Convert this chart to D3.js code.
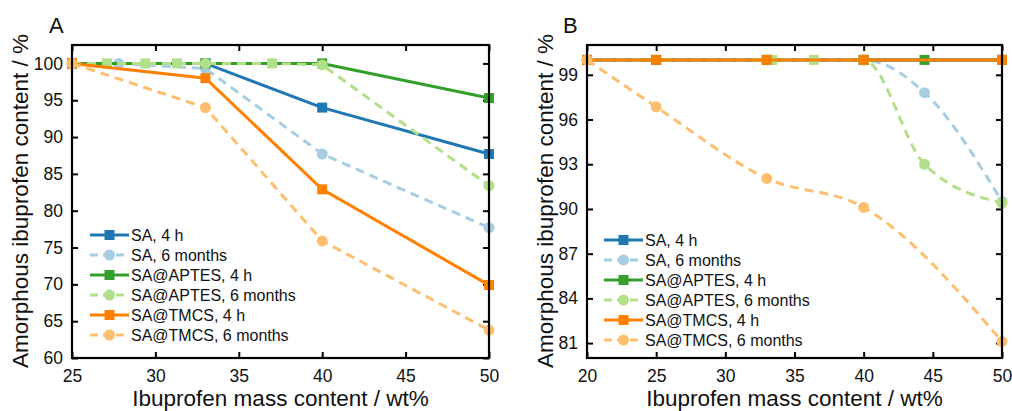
<!DOCTYPE html>
<html>
<head>
<meta charset="utf-8">
<script src="https://cdn.jsdelivr.net/npm/d3@7"></script>
<style>
  body { margin: 0; background: #fff; }
  svg { font-family: "Liberation Sans", Arial, sans-serif; }
</style>
</head>
<body>
<svg id="chart" width="1012" height="411"></svg>
<script>
// ---- data ----
const seriesNames = ["SA, 4 h", "SA, 6 months", "SA@APTES, 4 h", "SA@APTES, 6 months", "SA@TMCS, 4 h", "SA@TMCS, 6 months"]
const seriesColors = ["#1f78b4", "#a6cee3", "#33a02c", "#b2df8a", "#ff7f00", "#fdbf6f"]
const seriesDashed = [false, true, false, true, false, true]

// panel A
const saA = [[25, 100], [33, 100], [40, 94], [50, 87.7]]
const sa6A = [[25, 100], [27.8, 100], [33, 99.3], [40, 87.7], [50, 77.7]]
const aptesA = [[25, 100], [33, 100], [40, 100], [50, 95.3]]
const aptes6A = [[25, 100], [27.1, 100], [29.4, 100], [31.3, 100], [33, 100], [37, 100], [40, 99.8], [50, 83.4]]
const tmcsA = [[25, 100], [33, 98], [40, 82.9], [50, 69.9]]
const tmcs6A = [[25, 100], [33, 94], [40, 75.9], [50, 63.8]]
const aptes6SquaresA = [27.1, 29.4, 31.3, 37]
const xTicksA = [25, 30, 35, 40, 45, 50]
const yTicksA = [60, 65, 70, 75, 80, 85, 90, 95, 100]

// panel B
const saB = [[20, 100], [25, 100], [33, 100], [40, 100], [50, 100]]
const sa6B = [[20, 100], [33, 100], [40, 100], [44.4, 97.8], [50, 90.5]]
const aptesB = [[20, 100], [33, 100], [40, 100], [44.4, 100], [50, 100]]
const aptes6B = [[20, 100], [33.4, 100], [36.4, 100], [40, 100], [44.4, 93], [50, 90.4]]
const tmcsB = [[20, 100], [25, 100], [33, 100], [40, 100], [50, 100]]
const tmcs6B = [[20, 100], [25, 96.85], [33, 92.05], [40, 90.1], [50, 81.1]]
const aptes6SquaresB = [33.4, 36.4]
const xTicksB = [20, 25, 30, 35, 40, 45, 50]
const yTicksB = [81, 84, 87, 90, 93, 96, 99]

const svg = d3.select("#chart")

function drawPanel(opt) {
    const x = d3.scaleLinear().domain(opt.xDomain).range([opt.left, opt.right])
    const y = d3.scaleLinear().domain(opt.yDomain).range([358, 45])
    const g = svg.append("g")

    // inward ticks on all four sides
    const tl = 6
    g.append("g").attr("transform", "translate(0,358)")
        .call(d3.axisBottom(x).tickValues(opt.xTicks).tickSize(-tl).tickPadding(12).tickFormat(d3.format("d")))
    g.append("g").attr("transform", "translate(0,45)")
        .call(d3.axisTop(x).tickValues(opt.xTicks).tickSize(-tl).tickFormat(""))
    g.append("g").attr("transform", "translate(" + opt.left + ",0)")
        .call(d3.axisLeft(y).tickValues(opt.yTicks).tickSize(-tl).tickPadding(9).tickFormat(d3.format("d")))
    g.append("g").attr("transform", "translate(" + opt.right + ",0)")
        .call(d3.axisRight(y).tickValues(opt.yTicks).tickSize(-tl).tickFormat(""))
    g.selectAll(".domain").remove()
    g.selectAll(".tick line").attr("stroke", "#000").attr("stroke-width", 2)
    g.selectAll(".tick text").attr("font-size", 17.5).attr("fill", "#111")

    const line = d3.line().x(d => x(d[0])).y(d => y(d[1])).curve(opt.curve)
    const plot = g.append("g")

    opt.series.forEach(function (data, i) {
        plot.append("path")
            .attr("d", line(data))
            .attr("fill", "none")
            .attr("stroke", seriesColors[i])
            .attr("stroke-width", 3)
            .attr("stroke-dasharray", seriesDashed[i] ? "9,6" : null)
        data.forEach(function (d) {
            const sq = !seriesDashed[i] || (i == 3 && opt.squares.includes(d[0]))
            if (sq) {
                plot.append("rect")
                    .attr("x", x(d[0]) - 5).attr("y", y(d[1]) - 5)
                    .attr("width", 10).attr("height", 10)
                    .attr("fill", seriesColors[i])
            } else {
                plot.append("circle")
                    .attr("cx", x(d[0])).attr("cy", y(d[1])).attr("r", 5.5)
                    .attr("fill", seriesColors[i])
            }
        })
    })

    // frame
    g.append("rect")
        .attr("x", opt.left).attr("y", 45)
        .attr("width", opt.right - opt.left).attr("height", 313)
        .attr("fill", "none").attr("stroke", "#000").attr("stroke-width", 2.2)

    // titles
    g.append("text")
        .attr("x", (opt.left + opt.right) / 2).attr("y", 406)
        .attr("text-anchor", "middle").attr("font-size", 22.5).attr("fill", "#111")
        .text("Ibuprofen mass content / wt%")
    g.append("text")
        .attr("transform", "translate(" + opt.yTitleX + ",201) rotate(-90)")
        .attr("text-anchor", "middle").attr("font-size", 22.5).attr("fill", "#111")
        .text("Amorphous ibuprofen content / %")
    g.append("text")
        .attr("x", opt.labelX).attr("y", 33)
        .attr("font-size", 22).attr("fill", "#111")
        .text(opt.label)

    // legend
    const leg = g.append("g").attr("transform", "translate(" + opt.legX + "," + opt.legY + ")")
    seriesNames.forEach(function (name, i) {
        const row = leg.append("g").attr("transform", "translate(0," + i * 20 + ")")
        row.append("line")
            .attr("x1", 0).attr("x2", 39).attr("y1", 0).attr("y2", 0)
            .attr("stroke", seriesColors[i]).attr("stroke-width", 3)
            .attr("stroke-dasharray", seriesDashed[i] ? "8,5" : null)
        if (seriesDashed[i]) {
            row.append("circle").attr("cx", 19.5).attr("cy", 0).attr("r", 5.5).attr("fill", seriesColors[i])
        } else {
            row.append("rect").attr("x", 14.5).attr("y", -5).attr("width", 10).attr("height", 10).attr("fill", seriesColors[i])
        }
        row.append("text")
            .attr("x", 41).attr("y", 5.5)
            .attr("font-size", 16).attr("fill", "#111")
            .text(name)
    })
}

drawPanel({
    label: "A", labelX: 49, left: 72, right: 489, yTitleX: 28,
    xDomain: [25, 50], yDomain: [60, 102.5], xTicks: xTicksA, yTicks: yTicksA,
    series: [saA, sa6A, aptesA, aptes6A, tmcsA, tmcs6A], squares: aptes6SquaresA,
    curve: d3.curveLinear, legX: 90, legY: 235
})

drawPanel({
    label: "B", labelX: 563, left: 587, right: 1002, yTitleX: 553,
    xDomain: [20, 50], yDomain: [80, 101], xTicks: xTicksB, yTicks: yTicksB,
    series: [saB, sa6B, aptesB, aptes6B, tmcsB, tmcs6B], squares: aptes6SquaresB,
    curve: d3.curveMonotoneX, legX: 604, legY: 240
})
</script>
</body>
</html>
